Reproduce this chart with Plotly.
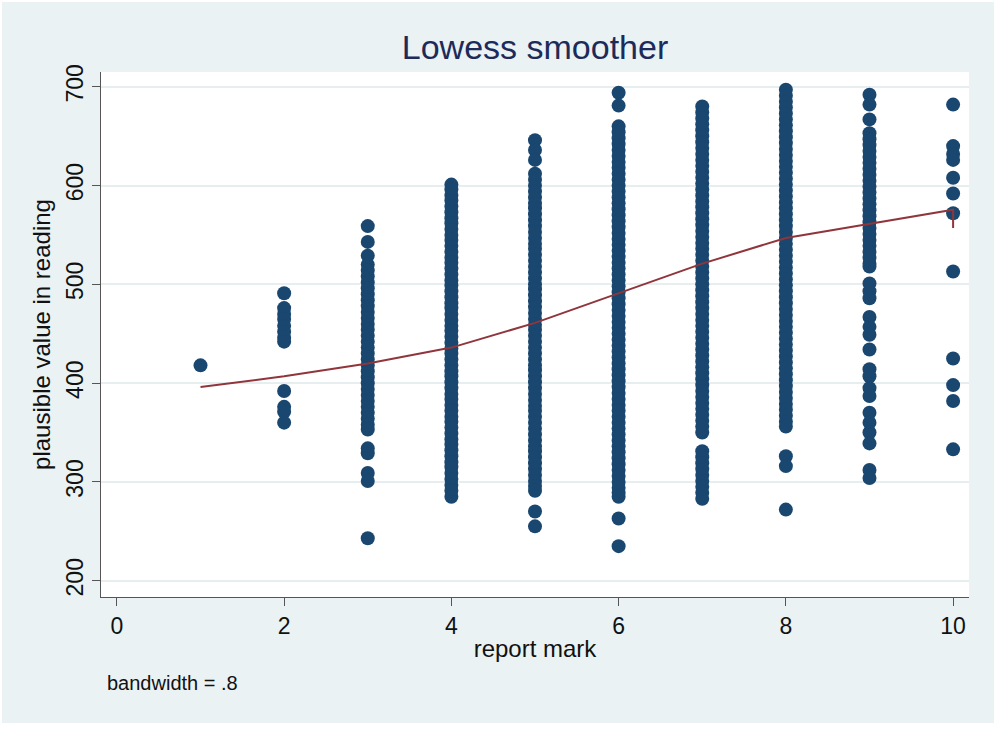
import plotly.graph_objects as go

# Plausible reading values observed at each report mark
pv_mark1 = [418]
pv_mark2 = [491, 476, 470, 465, 458, 452, 446, 442, 392, 376, 371, 360]
pv_mark3 = [559, 543, 529, 520, 514, 508, 502, 496, 490, 484, 478, 472, 466, 460, 454,
            448, 442, 436, 430, 424, 418, 412, 406, 400, 394, 388, 382, 376, 370, 364,
            358, 353, 334, 329, 309, 301, 243]
pv_mark4 = [601, 596, 590, 585, 579, 573, 567, 562, 556, 550, 545, 539, 533, 527, 522,
            516, 510, 504, 499, 493, 487, 481, 476, 470, 464, 458, 453, 447, 441, 435,
            430, 424, 418, 412, 407, 401, 395, 389, 384, 378, 372, 366, 361, 355, 349,
            343, 338, 332, 326, 320, 315, 309, 303, 297, 291, 285]
pv_mark5 = [646, 636, 626, 612, 606, 600, 594, 588, 582, 577, 571, 565, 559, 553, 547,
            541, 536, 530, 524, 518, 512, 506, 500, 495, 489, 483, 477, 471, 465, 459,
            454, 448, 442, 436, 430, 424, 418, 413, 407, 401, 395, 389, 383, 377, 372,
            366, 360, 354, 348, 342, 336, 331, 325, 319, 313, 307, 301, 296, 291, 270, 255]
pv_mark6 = [694, 681, 660, 654, 648, 642, 636, 630, 624, 618, 612, 606, 600, 594, 588,
            582, 576, 570, 564, 558, 552, 546, 540, 534, 528, 522, 516, 510, 504, 498,
            492, 486, 480, 474, 468, 462, 456, 450, 444, 438, 432, 426, 420, 414, 408,
            402, 396, 390, 384, 378, 372, 366, 360, 354, 348, 342, 336, 330, 324, 318,
            312, 306, 300, 294, 289, 285, 263, 235]
pv_mark7 = [680, 674, 668, 662, 656, 650, 644, 638, 632, 626, 620, 614, 608, 602, 596,
            590, 584, 578, 572, 566, 560, 554, 548, 542, 536, 530, 524, 518, 512, 506,
            500, 494, 488, 482, 476, 470, 464, 458, 452, 446, 440, 434, 428, 422, 416,
            410, 404, 398, 392, 386, 380, 374, 368, 362, 356, 350, 331, 325, 319, 313,
            307, 301, 295, 289, 283]
pv_mark8 = [697, 691, 685, 679, 673, 667, 661, 655, 649, 643, 637, 631, 625, 619, 613,
            607, 601, 595, 589, 583, 577, 571, 565, 559, 553, 547, 541, 535, 529, 523,
            517, 511, 505, 499, 493, 487, 481, 475, 469, 463, 457, 451, 445, 439, 433,
            427, 421, 415, 409, 403, 397, 391, 385, 379, 373, 367, 361, 356, 326, 316, 272]
pv_mark9 = [692, 682, 667, 653, 647, 641, 635, 629, 623, 617, 611, 605, 599, 593, 587,
            581, 575, 569, 563, 557, 551, 545, 539, 533, 527, 521, 518, 501, 493, 486,
            467, 457, 449, 434, 414, 407, 395, 387, 370, 360, 350, 339, 312, 304]
pv_mark10 = [682, 640, 632, 626, 608, 592, 572, 513, 425, 398, 382, 333]

report_marks = [1, 2, 3, 4, 5, 6, 7, 8, 9, 10]
pv_by_mark = [pv_mark1, pv_mark2, pv_mark3, pv_mark4, pv_mark5,
              pv_mark6, pv_mark7, pv_mark8, pv_mark9, pv_mark10]

# Lowess fit (bandwidth .8), evaluated at the sorted report marks
lowess_x = [1, 2, 3, 4, 5, 6, 7, 8, 9, 10, 10]
lowess_y = [396, 407, 420, 436, 461, 491, 521, 547, 561, 575.5, 557]

x_ticks = [0, 2, 4, 6, 8, 10]
y_ticks = [200, 300, 400, 500, 600, 700]

scatter_x = [m for m, vals in zip(report_marks, pv_by_mark) for _ in vals]
scatter_y = [v for vals in pv_by_mark for v in vals]

FONT = "Liberation Sans, Arial, sans-serif"
NAVY = "#1A476F"
MAROON = "#90353B"
AXIS = "#555555"
BG = "#EAF2F3"

W, H = 994, 735
L, R, T, B = 101, 969, 72, 597


def px_x(px):
    return (px - L) / (R - L)


def px_y(py):
    return (B - py) / (B - T)


fig = go.Figure()
fig.add_trace(go.Scatter(
    x=scatter_x, y=scatter_y, mode="markers",
    marker=dict(color=NAVY, size=14, line=dict(width=0)),
    hoverinfo="x+y",
))
fig.add_trace(go.Scatter(
    x=lowess_x, y=lowess_y, mode="lines",
    line=dict(color=MAROON, width=2),
))

fig.update_layout(
    width=W, height=H,
    margin=dict(l=L, r=W - R, t=T, b=H - B, autoexpand=False),
    paper_bgcolor=BG,
    plot_bgcolor="white",
    showlegend=False,
    font=dict(family=FONT, color="#111111"),
    title=dict(
        text="Lowess smoother",
        font=dict(family=FONT, size=34, color="#1C2B5A"),
        x=0.5, xref="paper", xanchor="center",
        y=1 - 47 / H, yref="container", yanchor="middle",
    ),
    xaxis=dict(
        range=[-0.19, 10.19],
        tickvals=x_ticks,
        ticks="outside", ticklen=8, tickwidth=1.2, tickcolor=AXIS,
        showline=True, linecolor=AXIS, linewidth=1.3,
        showgrid=False, zeroline=False,
        tickfont=dict(size=23, color="#111111"),
        title=dict(text="report mark", font=dict(size=24, color="#111111"), standoff=2),
        automargin=False,
    ),
    yaxis=dict(
        range=[183.5, 715],
        tickvals=y_ticks,
        tickangle=-90,
        ticks="outside", ticklen=8, tickwidth=1.2, tickcolor=AXIS,
        showline=True, linecolor=AXIS, linewidth=1.3,
        showgrid=True, gridcolor="#E6EEF0", gridwidth=1.5,
        zeroline=False,
        tickfont=dict(size=23, color="#111111"),
        title=dict(text="plausible value in reading", font=dict(size=24, color="#111111"),
                   standoff=4),
        automargin=False,
    ),
    annotations=[dict(
        text="bandwidth = .8",
        x=px_x(105), y=px_y(683), xref="paper", yref="paper",
        xanchor="left", yanchor="middle", showarrow=False,
        font=dict(family=FONT, size=20, color="#111111"),
    )],
    shapes=[
        # thin white frame around the graph region
        dict(type="rect", xref="paper", yref="paper", layer="below",
             x0=px_x(0), x1=px_x(W), y0=px_y(723), y1=px_y(H),
             fillcolor="white", line=dict(width=0)),
        dict(type="rect", xref="paper", yref="paper", layer="below",
             x0=px_x(0), x1=px_x(W), y0=px_y(0), y1=px_y(2),
             fillcolor="white", line=dict(width=0)),
        dict(type="rect", xref="paper", yref="paper", layer="below",
             x0=px_x(0), x1=px_x(2), y0=px_y(0), y1=px_y(H),
             fillcolor="white", line=dict(width=0)),
    ],
)

fig.write_html("out.html")
